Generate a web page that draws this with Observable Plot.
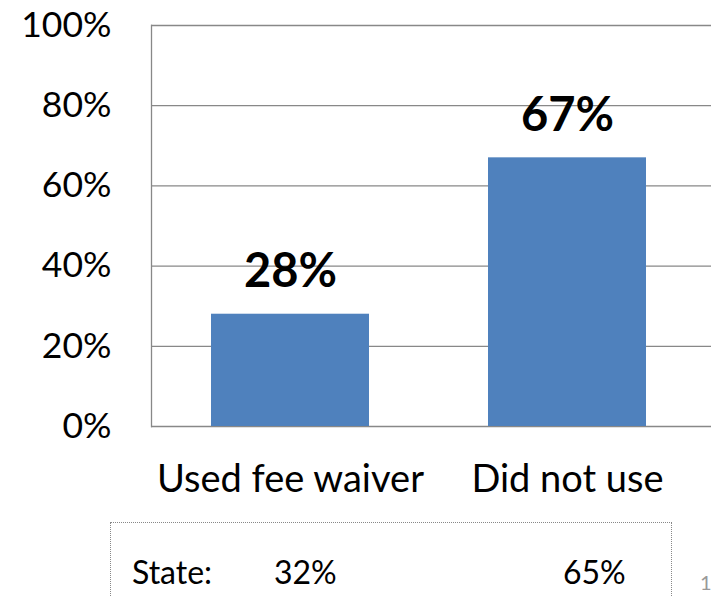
<!DOCTYPE html>
<html>
<head>
<meta charset="utf-8">
<script src="https://cdn.jsdelivr.net/npm/d3@7"></script>
<script src="https://cdn.jsdelivr.net/npm/@observablehq/plot@0.6"></script>
<style>
  html, body { margin: 0; padding: 0; background: #fff; }
  #wrap { position: relative; width: 711px; height: 597px; overflow: hidden; font-family: Lato, "Open Sans", sans-serif; }
  #chart svg { display: block; }
  #statebox { position: absolute; left: 110px; top: 522px; width: 562px; height: 90px;
    border: 1.5px dotted #888; box-sizing: border-box; }
  .st { position: absolute; top: 33px; font-size: 32px; color: #000; line-height: 1; }
  #pagenum { position: absolute; left: 700px; top: 572px; font-size: 20px; color: #999; line-height: 1; }
</style>
</head>
<body>
<div id="wrap">
  <div id="chart"></div>
  <div id="statebox"></div>
  <div id="pagenum">1</div>
</div>
<script>
const categories = ["Used fee waiver", "Did not use"];
const values = [0.28, 0.67];
const stateLabel = "State:";
const stateValues = [0.32, 0.65];
const yTicks = [0, 0.2, 0.4, 0.6, 0.8, 1.0];

const data = categories.map((c, i) => ({category: c, value: values[i]}));
const pct = d => Math.round(d * 100) + "%";

const chart = Plot.plot({
  width: 711,
  height: 515,
  marginTop: 25,
  marginBottom: 89,
  marginLeft: 151,
  marginRight: 0,
  style: {fontFamily: "Lato, 'Open Sans', sans-serif", background: "white"},
  x: {domain: categories, range: [151, 705], paddingInner: 0.43, paddingOuter: 0.215},
  y: {domain: [0, 1]},
  marks: [
    Plot.gridY(yTicks, {stroke: "#888", strokeOpacity: 1, strokeWidth: 1.3}),
    Plot.frame({anchor: "left", stroke: "#888", strokeWidth: 1.3}),
    Plot.barY(data, {x: "category", y: "value", fill: "#4F81BD"}),
    Plot.text(data, {x: "category", y: "value", text: d => pct(d.value), lineAnchor: "bottom", dy: -27, fontSize: 47, fontWeight: "bold", fill: "#000"}),
    Plot.axisY(yTicks, {tickSize: 0, tickPadding: 40, tickFormat: pct, fontSize: 35.5, fill: "#000", label: null}),
    Plot.axisX({tickSize: 0, tickPadding: 39, fontSize: 38, fill: "#000", label: null})
  ]
});
document.getElementById("chart").appendChild(chart);

const box = document.getElementById("statebox");
const lbl = document.createElement("div");
lbl.className = "st"; lbl.style.left = "21px"; lbl.textContent = stateLabel;
box.appendChild(lbl);
const stLeft = [163, 452];
stateValues.forEach((v, i) => {
  const el = document.createElement("div");
  el.className = "st"; el.style.left = stLeft[i] + "px"; el.textContent = pct(v);
  box.appendChild(el);
});
</script>
</body>
</html>
